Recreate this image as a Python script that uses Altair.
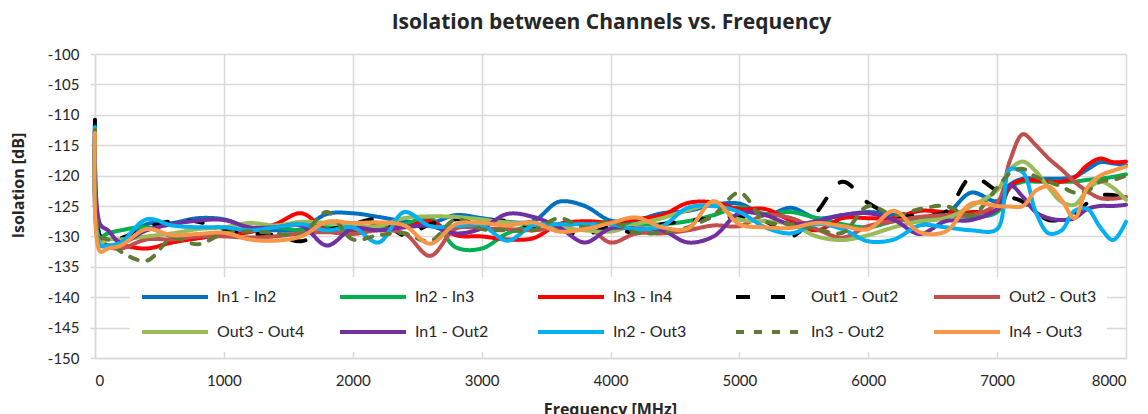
import altair as alt
import pandas as pd

# Frequency grid (MHz)
freq = [0, 40, 100, 200, 400, 600, 800, 1000, 1200, 1400, 1600, 1800, 2000, 2200,
        2400, 2600, 2800, 3000, 3200, 3400, 3600, 3800, 4000, 4200, 4400, 4600, 4800,
        5000, 5200, 5400, 5600, 5800, 6000, 6200, 6400, 6600, 6800, 7000,
        7100, 7200, 7300, 7400, 7500, 7600, 7700, 7800, 7900, 8000]

in1_in2 = [-112, -130, -131.5, -131, -128, -127.8, -127, -127.2, -128.6, -129, -128.8, -126.3, -126.2, -126.8,
           -127.5, -127.8, -126.5, -127, -127.6, -127.5, -124.3, -125, -127.4, -127.3, -126.2, -125.8, -124.8,
           -124.6, -126.5, -125.3, -127, -126.5, -126, -126.5, -127.5, -126.5, -122.8, -124.2,
           -121.5, -120.5, -120.5, -120.5, -120.5, -120.2, -119, -117.8, -118, -118.3]
in2_in3 = [-112.5, -130, -129.5, -129, -128.5, -130, -130.3, -129.3, -128.7, -128.5, -129, -128.5, -129, -128.5,
           -128, -127, -131.8, -132, -129.5, -128.2, -128, -127.7, -128, -128, -128, -127.5, -126.5,
           -125.2, -126.3, -126, -127, -128, -128.5, -127.5, -127, -126.5, -126.8, -126,
           -122, -121, -121, -121, -121, -121, -120.7, -120.5, -120.2, -119.8]
in3_in4 = [-112.5, -131, -131.5, -131.5, -132, -131, -130.3, -129.7, -129.3, -128, -126.2, -129, -129.5, -128,
           -128.5, -127.5, -129.8, -130, -130.5, -130.3, -128, -127.5, -127.7, -127.2, -126.5, -124.5, -124.4,
           -125.5, -125.5, -127.4, -129, -127, -127, -127, -125.8, -126, -126, -125.6,
           -121.8, -120.7, -120.8, -121, -121, -120.3, -118.3, -117.2, -117.8, -117.7]
out1_out2 = [-110.8, -130, -130.5, -130.3, -128.5, -127.5, -127.6, -128.8, -129.5, -129.8, -130.8, -129, -128, -127.2,
             -129.8, -128, -127.2, -127.2, -127.5, -128.5, -129, -129.7, -128.5, -129.5, -128, -127.5, -127,
             -126.8, -127.5, -130, -126, -121, -124.5, -126.5, -126.5, -126, -120.3, -122.5,
             -123.5, -124.3, -126, -127.3, -127.2, -126.5, -124.5, -123.3, -123.2, -123.7]
out2_out3 = [-112.5, -131, -131.7, -132, -130.5, -130.5, -130, -130, -130.2, -130, -129.5, -129.3, -129.6, -129,
             -129.5, -133.2, -128.7, -128.7, -128.8, -129, -128.5, -128, -131, -129.5, -129.5, -129, -128.2,
             -128.3, -126.5, -127, -128.8, -130.2, -128.3, -127.5, -126.8, -126.5, -126.5, -124.5,
             -117.5, -113.2, -115, -117.2, -119, -121, -122.6, -123.7, -123.8, -123.5]
out3_out4 = [-113, -131, -130.5, -130.5, -130, -129.5, -128.8, -128.5, -127.8, -128.2, -127.6, -127.8, -128.2, -128.3,
             -127, -126.7, -126.8, -127.2, -127.7, -128, -128.5, -129, -129.2, -128, -127, -125.7, -124.8,
             -127.2, -127.5, -128, -130, -130.6, -129.8, -128.5, -127.5, -127, -125, -122.4,
             -119, -117.7, -119.3, -122, -124.3, -124.8, -122.4, -121, -122, -124]
in1_out2 = [-113, -128, -129, -131, -129, -128, -127.4, -127.3, -128.5, -128.5, -128.2, -131.5, -128.7, -129,
            -128.5, -128.3, -129.5, -128.7, -126.3, -126.8, -128.5, -131, -128.7, -128.7, -129, -131, -130,
            -126.2, -126.5, -128, -127.5, -126.5, -126.2, -127.3, -129.6, -127.5, -127.3, -125.5,
            -121.6, -123.5, -126, -127, -127.3, -127, -125.5, -125, -125, -124.8]
in2_out3 = [-112, -131.5, -131.5, -131, -127.2, -128.2, -128.5, -128.5, -129, -128.5, -128, -129, -128.5, -131,
            -126, -128.3, -128.3, -128.2, -130.7, -128.2, -128, -128, -128, -128.8, -128.3, -125.3, -125,
            -126, -128.5, -129.5, -128, -128.8, -130.8, -130.5, -128.2, -128.5, -129, -128.8,
            -119, -119.5, -126, -129.5, -129, -125.8, -125.5, -128.5, -130.6, -127.6]
in3_out2 = [-112.5, -130, -130.5, -132.5, -134, -130.3, -131.3, -129.5, -129.2, -129.5, -129.8, -126, -130.5, -129.8,
            -129.5, -130.8, -127.2, -128.8, -129, -129, -127, -128.5, -127.5, -129.4, -129.3, -128.5, -126.5,
            -122.8, -127.5, -128, -128.8, -129.4, -125, -126.5, -125.5, -125, -126.5, -122,
            -119.6, -118.9, -120.2, -121, -121.8, -122.8, -122.5, -121, -120.7, -120]
in4_out3 = [-113, -132.5, -132, -131.5, -128.8, -129.8, -129.6, -129.4, -130.5, -130.7, -130, -127.6, -127.8, -127.7,
            -128.2, -131.2, -128, -127.8, -128.2, -127.7, -129.2, -128.8, -127.8, -126.9, -128.5, -128.7, -124.2,
            -128, -128.5, -128.6, -127.8, -128.3, -128.8, -125.8, -129.3, -129.2, -124.6, -125,
            -125.1, -125, -122.5, -121.8, -124, -127, -122, -120, -119.2, -118.5]

series_names = ["In1 - In2", "In2 - In3", "In3 - In4", "Out1 - Out2", "Out2 - Out3",
                "Out3 - Out4", "In1 - Out2", "In2 - Out3", "In3 - Out2", "In4 - Out3"]
series_values = [in1_in2, in2_in3, in3_in4, out1_out2, out2_out3,
                 out3_out4, in1_out2, in2_out3, in3_out2, in4_out3]
colors = ["#0070C0", "#00B050", "#FF0000", "#000000", "#C0504D",
          "#9BBB59", "#7030A0", "#00B0F0", "#5F7A34", "#F79646"]
dashes = [[1, 0], [1, 0], [1, 0], [14, 21], [1, 0],
          [1, 0], [1, 0], [1, 0], [8, 10], [1, 0]]

x_ticks = [0, 1000, 2000, 3000, 4000, 5000, 6000, 7000, 8000]
y_ticks = [-150, -145, -140, -135, -130, -125, -120, -115, -110, -105, -100]

rows = []
for k, (name, vals) in enumerate(zip(series_names, series_values)):
    assert len(vals) == len(freq), name
    for f, v in zip(freq, vals):
        rows.append({"Frequency": f, "Isolation": v, "Series": name, "k": k})
df = pd.DataFrame(rows)

FONT = "Lato"
BOLD = "Open Sans"
GRID = "#D9D9D9"
TXT = "#262626"

legend = alt.Legend(
    title=None, orient="none", legendX=35, legendY=223, columns=5, gridAlign="all",
    direction="horizontal",
    symbolType="stroke", symbolSize=4356, symbolStrokeWidth=4, symbolOpacity=1,
    clipHeight=20,
    labelFont=FONT, labelFontSize=16, labelColor=TXT, labelOffset=7, labelLimit=0,
    columnPadding=33, rowPadding=15, padding=10, fillColor="white",
)

chart = alt.Chart(df).mark_line(
    interpolate="catmull-rom", strokeWidth=4, strokeCap="round", strokeJoin="round"
).encode(
    x=alt.X("Frequency:Q", scale=alt.Scale(domain=[0, 8000], nice=False, zero=False),
            axis=alt.Axis(values=x_ticks, title="Frequency [MHz]", labelExpr="'' + datum.value",
                          ticks=False, labelPadding=15, labelFont=FONT, labelFontSize=15,
                          labelColor=TXT, titleFont=BOLD, titleFontSize=16, titleFontWeight="bold",
                          titleColor=TXT, titleBaseline="top", titleY=43, titleX=515,
                          domainColor=GRID, domainWidth=1.5, gridColor=GRID, gridWidth=1.5)),
    y=alt.Y("Isolation:Q", scale=alt.Scale(domain=[-150, -100], nice=False, zero=False),
            axis=alt.Axis(values=y_ticks, title="Isolation [dB]", labelExpr="'' + datum.value",
                          tickSize=5, tickColor=GRID, tickWidth=1.5, labelPadding=11,
                          labelFont=FONT, labelFontSize=15, labelColor=TXT,
                          titleFont=BOLD, titleFontSize=16, titleFontWeight="bold", titleColor=TXT,
                          titleAngle=270, titleAlign="center", titleBaseline="middle",
                          titleX=-77, titleY=131,
                          domainColor=GRID, domainWidth=1.5, gridColor=GRID, gridWidth=1.5)),
    color=alt.Color("Series:N", scale=alt.Scale(domain=series_names, range=colors), legend=legend),
    strokeDash=alt.StrokeDash("Series:N", scale=alt.Scale(domain=series_names, range=dashes), legend=legend),
    order=alt.Order("k:Q"),
).properties(
    width=1031, height=304,
    title=alt.TitleParams("Isolation between Channels vs. Frequency", font=BOLD, fontSize=21,
                          fontWeight="bold", color=TXT, anchor="middle", offset=14, dx=1),
    autosize=alt.AutoSizeParams(type="none"),
    padding={"left": 87, "top": 46, "right": 14, "bottom": 60},
    background="white",
).configure_view(strokeWidth=0)

chart.save("out.html", embed_options={"renderer": "svg", "actions": False})
